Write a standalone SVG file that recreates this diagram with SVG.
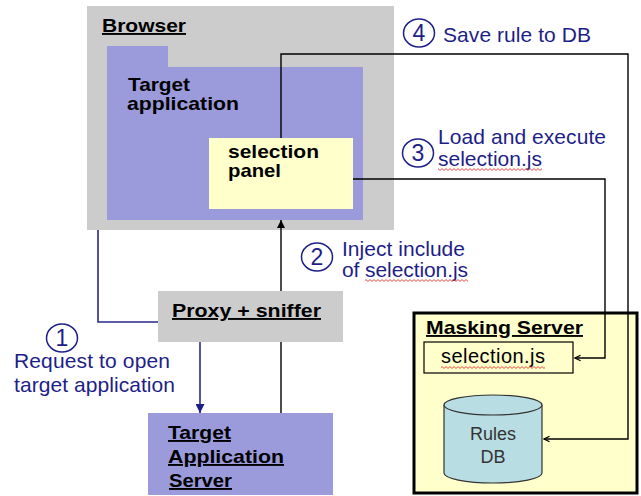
<svg xmlns="http://www.w3.org/2000/svg" width="641" height="496" viewBox="0 0 641 496">
  <style>
    .bold { font-family: "Liberation Sans", Arial, sans-serif; font-weight: bold; font-size: 19px; fill: #000; text-decoration: underline; }
    .flat { text-decoration: none; }
    .plain { font-family: "Liberation Sans", Arial, sans-serif; font-size: 20px; fill: #000; }
    .lbl { font-family: "Liberation Sans", Arial, sans-serif; font-size: 21px; fill: #1e1e88; }
    .num { font-family: "Liberation Sans", Arial, sans-serif; font-size: 23px; fill: #1e1e88; text-anchor: middle; }
    .ring { fill: none; stroke: #1e1e88; stroke-width: 1.5; }
    .gray { fill: #cccccc; }
    .violet { fill: #9b9bdc; }
    .pale { fill: #ffffcc; }
    .wire { fill: none; stroke: #000; stroke-width: 1.4; }
    .navy { fill: none; stroke: #2a2a8c; stroke-width: 1.6; }
    .squig { fill: url(#squiggle); }
  </style>
  <defs>
    <marker id="tri" viewBox="0 0 10 10" refX="10" refY="5" markerWidth="9" markerHeight="8" orient="auto" markerUnits="userSpaceOnUse">
      <path d="M0 0 L10 5 L0 10 z" fill="#000"/>
    </marker>
    <marker id="triNavy" viewBox="0 0 10 10" refX="10" refY="5" markerWidth="9" markerHeight="9" orient="auto" markerUnits="userSpaceOnUse">
      <path d="M0 0 L10 5 L0 10 z" fill="#1e1e88"/>
    </marker>
    <marker id="open" viewBox="0 0 10 10" refX="9" refY="5" markerWidth="7" markerHeight="8" orient="auto" markerUnits="userSpaceOnUse">
      <path d="M1 1 L9 5 L1 9" fill="none" stroke="#000" stroke-width="1.6"/>
    </marker>
    <!-- wavy spell-check underline -->
    <pattern id="squiggle" x="0" y="0" width="4" height="3" patternUnits="userSpaceOnUse">
      <path d="M0 2.4 L2 0.6 L4 2.4" fill="none" stroke="#e03a3a" stroke-width="0.9"/>
    </pattern>
  </defs>

  <!-- Browser -->
  <g id="browser">
    <rect class="gray" x="87" y="6" width="307" height="224"/>
    <text class="bold" x="102" y="32" textLength="84" lengthAdjust="spacingAndGlyphs">Browser</text>
  </g>

  <!-- Target application (folder shape) -->
  <g id="target-application">
    <path class="violet" d="M107 46 H168 V67 H363 V220 H107 Z"/>
    <text class="bold flat" x="128" y="90.5" textLength="62" lengthAdjust="spacingAndGlyphs">Target</text>
    <text class="bold flat" x="127" y="110" textLength="112" lengthAdjust="spacingAndGlyphs">application</text>
  </g>

  <!-- selection panel -->
  <g id="selection-panel">
    <rect class="pale" x="209" y="138" width="144" height="71"/>
    <text class="bold flat" x="228" y="157.5" textLength="91" lengthAdjust="spacingAndGlyphs">selection</text>
    <text class="bold flat" x="228" y="177" textLength="53" lengthAdjust="spacingAndGlyphs">panel</text>
  </g>

  <!-- Proxy + sniffer -->
  <g id="proxy">
    <rect class="gray" x="158" y="291" width="185" height="51"/>
    <text class="bold" x="172" y="317" textLength="149" lengthAdjust="spacingAndGlyphs">Proxy + sniffer</text>
  </g>

  <!-- Target Application Server -->
  <g id="target-server">
    <rect class="violet" x="148" y="413" width="185" height="82"/>
    <text class="bold" x="168" y="439" textLength="63" lengthAdjust="spacingAndGlyphs">Target</text>
    <text class="bold" x="168" y="463" textLength="116" lengthAdjust="spacingAndGlyphs">Application</text>
    <text class="bold" x="169" y="487" textLength="63" lengthAdjust="spacingAndGlyphs">Server</text>
  </g>

  <!-- Masking Server -->
  <g id="masking-server">
    <rect class="pale" x="414" y="313" width="223" height="180" stroke="#000" stroke-width="3"/>
    <text class="bold" x="426" y="334" textLength="157" lengthAdjust="spacingAndGlyphs">Masking Server</text>
  </g>

  <!-- selection.js resource -->
  <g id="selection-js">
    <rect class="pale" x="424" y="342" width="149" height="31" stroke="#000" stroke-width="1.2"/>
    <text class="plain" x="441" y="363" textLength="104">selection.js</text>
    <rect class="squig" x="441" y="366" width="104" height="3"/>
  </g>

  <!-- Rules DB cylinder -->
  <g id="rules-db">
    <path d="M444 405 V473 A49 10 0 0 0 542 473 V405" fill="#b8dde3" stroke="#333" stroke-width="1.2"/>
    <ellipse cx="493" cy="405" rx="49" ry="10" fill="#b8dde3" stroke="#333" stroke-width="1.2"/>
    <text class="plain" x="493" y="440" text-anchor="middle" style="font-size:18px;fill:#333">Rules</text>
    <text class="plain" x="493" y="463" text-anchor="middle" style="font-size:18px;fill:#333">DB</text>
  </g>

  <!-- Connectors -->
  <g id="connectors">
    <!-- 1: browser request through proxy to the target server -->
    <polyline class="navy" points="98,230 98,322 158,322"/>
    <line class="navy" x1="200" y1="342" x2="200" y2="413" marker-end="url(#triNavy)"/>
    <!-- 2: response back up through proxy into the browser -->
    <line class="wire" x1="281" y1="413" x2="281" y2="342"/>
    <line class="wire" x1="281" y1="291" x2="281" y2="220" marker-end="url(#tri)"/>
    <!-- 3: selection panel loads selection.js -->
    <polyline class="wire" points="353,179 605,179 605,358 575,358" marker-end="url(#open)"/>
    <!-- 4: selection panel saves rules to DB -->
    <polyline class="wire" points="281,138 281,54 628,54 628,439 544,439" marker-end="url(#open)"/>
  </g>

  <!-- Step labels -->
  <g id="step-1">
    <ellipse class="ring" cx="62" cy="338" rx="15.5" ry="14"/>
    <text class="num" x="62" y="346">1</text>
    <text class="lbl" x="14" y="368" textLength="156">Request to open</text>
    <text class="lbl" x="14" y="392" textLength="161">target application</text>
  </g>
  <g id="step-2">
    <ellipse class="ring" cx="317" cy="257" rx="15.5" ry="14"/>
    <text class="num" x="317" y="265">2</text>
    <text class="lbl" x="342" y="256" textLength="123">Inject include</text>
    <text class="lbl" x="342" y="277" textLength="126">of selection.js</text>
    <rect class="squig" x="365" y="279" width="103" height="3"/>
  </g>
  <g id="step-3">
    <ellipse class="ring" cx="418" cy="153" rx="15.5" ry="14"/>
    <text class="num" x="418" y="161">3</text>
    <text class="lbl" x="438" y="144" textLength="168">Load and execute</text>
    <text class="lbl" x="438" y="166" textLength="104">selection.js</text>
    <rect class="squig" x="438" y="168" width="104" height="3"/>
  </g>
  <g id="step-4">
    <ellipse class="ring" cx="419" cy="33" rx="15.5" ry="14"/>
    <text class="num" x="419" y="41">4</text>
    <text class="lbl" x="443" y="42" textLength="148">Save rule to DB</text>
  </g>
</svg>
